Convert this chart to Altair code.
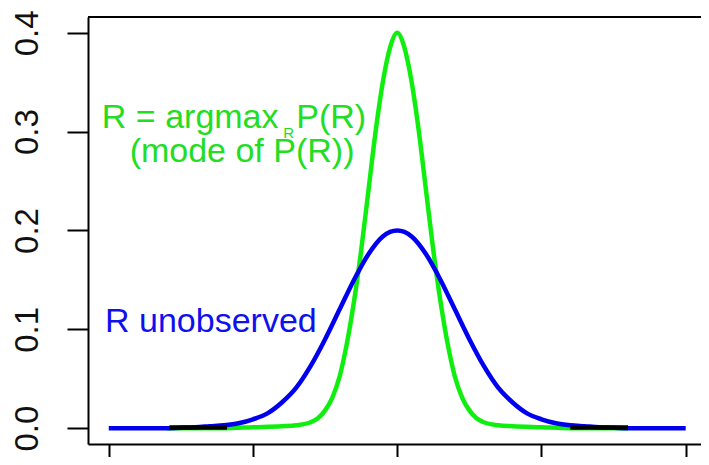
import altair as alt
import pandas as pd

# Green curve: R = argmax_R P(R)
green_x = [-8, -6, -5, -4, -3.5, -3, -2.75, -2.5, -2.25, -2, -1.75, -1.5, -1.25, -1,
           -0.75, -0.5, -0.25, 0, 0.25, 0.5, 0.75, 1, 1.25, 1.5, 1.75, 2, 2.25, 2.5,
           2.75, 3, 3.5, 4, 5, 6, 8]
green_y = [0.0, 0.0, 0.001, 0.002, 0.003, 0.006, 0.010, 0.018, 0.031, 0.052, 0.085,
           0.128, 0.180, 0.240, 0.300, 0.350, 0.385, 0.400, 0.385, 0.350, 0.300, 0.240,
           0.180, 0.128, 0.085, 0.052, 0.031, 0.018, 0.010, 0.006, 0.003, 0.002, 0.001,
           0.0, 0.0]

# Blue curve: R unobserved
blue_x = [-10, -9, -8, -7.5, -7, -6.5, -6, -5.5, -5, -4.5, -4, -3.5, -3, -2.5, -2, -1.5,
          -1, -0.5, 0, 0.5, 1, 1.5, 2, 2.5, 3, 3.5, 4, 4.5, 5, 5.5, 6, 6.5, 7, 7.5, 8, 9, 10]
blue_y = [0.0, 0.0, 0.0, 0.0005, 0.001, 0.002, 0.003, 0.005, 0.009, 0.015, 0.026, 0.041,
          0.063, 0.090, 0.120, 0.150, 0.176, 0.194, 0.200, 0.194, 0.176, 0.150, 0.120,
          0.090, 0.063, 0.041, 0.026, 0.015, 0.009, 0.005, 0.003, 0.002, 0.001, 0.0005,
          0.0, 0.0, 0.0]

# Short black segments near zero
black_x = [-7.9, -5.9, 6.0, 8.0]
black_y = [0.0008, 0.0008, 0.0008, 0.0008]
black_seg = ["left", "left", "right", "right"]

y_ticks = [0.0, 0.1, 0.2, 0.3, 0.4]
x_ticks = [-10, -5, 0, 5, 10]

FONT = "Liberation Sans"
GREEN = "#10ee10"
GREEN_TXT = "#22dd22"
BLUE = "#0000ee"

green_df = pd.DataFrame({"x": green_x, "y": green_y})
blue_df = pd.DataFrame({"x": blue_x, "y": blue_y})
black_df = pd.DataFrame({"x": black_x, "y": black_y, "seg": black_seg})

x_enc = alt.X("x:Q", scale=alt.Scale(domain=[-10.72, 10.53], nice=False, zero=False),
              axis=alt.Axis(values=x_ticks, labels=False, title=None, ticks=True,
                            tickSize=21, tickWidth=2, tickColor="black", domain=True,
                            domainColor="black", domainWidth=2, grid=False))
y_enc = alt.Y("y:Q", scale=alt.Scale(domain=[-0.016, 0.416], nice=False, zero=False),
              axis=alt.Axis(values=y_ticks, format=".1f", title=None, tickSize=21,
                            tickWidth=2, tickColor="black", domain=True,
                            domainColor="black", domainWidth=2, grid=False,
                            labelAngle=270, labelAlign="center",
                            labelBaseline="alphabetic", labelPadding=30,
                            labelFontSize=33, labelFont=FONT, labelColor="#111111"))

top_border = alt.Chart(pd.DataFrame({"k": [0]})).mark_rule(
    color="black", strokeWidth=2).encode(y=alt.value(0))

green = alt.Chart(green_df).mark_line(color=GREEN, strokeWidth=4.5,
                                      interpolate="monotone").encode(x=x_enc, y=y_enc)
blue = alt.Chart(blue_df).mark_line(color=BLUE, strokeWidth=4.5,
                                    interpolate="monotone").encode(x=x_enc, y=y_enc)
black = alt.Chart(black_df).mark_line(color="black", strokeWidth=4.5).encode(
    x=x_enc, y=y_enc, detail="seg:N")

# Annotation texts
t1a_df = pd.DataFrame({"x": [-10.24], "y": [0.3037], "t": ["R = argmax"]})
t1b_df = pd.DataFrame({"x": [-3.5], "y": [0.3037], "t": ["P(R)"]})
t_sub_df = pd.DataFrame({"x": [-3.95], "y": [0.2936], "t": ["R"]})
t2_df = pd.DataFrame({"x": [-5.38], "y": [0.2693], "t": ["(mode of P(R))"]})
t3_df = pd.DataFrame({"x": [-10.13], "y": [0.0976], "t": ["R unobserved"]})

txt1a = alt.Chart(t1a_df).mark_text(align="left", baseline="alphabetic", font=FONT,
                                    fontSize=34, color=GREEN_TXT).encode(
    x=x_enc, y=y_enc, text="t:N")
txt1b = alt.Chart(t1b_df).mark_text(align="left", baseline="alphabetic", font=FONT,
                                    fontSize=34, color=GREEN_TXT).encode(
    x=x_enc, y=y_enc, text="t:N")
txt_sub = alt.Chart(t_sub_df).mark_text(align="left", baseline="alphabetic", font=FONT,
                                        fontSize=15, color=GREEN_TXT).encode(
    x=x_enc, y=y_enc, text="t:N")
txt2 = alt.Chart(t2_df).mark_text(align="center", baseline="alphabetic", font=FONT,
                                  fontSize=34, color=GREEN_TXT).encode(
    x=x_enc, y=y_enc, text="t:N")
txt3 = alt.Chart(t3_df).mark_text(align="left", baseline="alphabetic", font=FONT,
                                  fontSize=34, color="#1010ee").encode(
    x=x_enc, y=y_enc, text="t:N")

chart = alt.layer(top_border, green, blue, black, txt1a, txt_sub, txt1b, txt2, txt3).properties(
    width=613, height=427,
    padding={"left": 80, "top": 9, "right": 0, "bottom": 13},
    autosize=alt.AutoSizeParams(type="none"),
    background="white",
).configure_view(stroke=None)

chart.save("out.html", embed_options={"renderer": "svg", "actions": False})
